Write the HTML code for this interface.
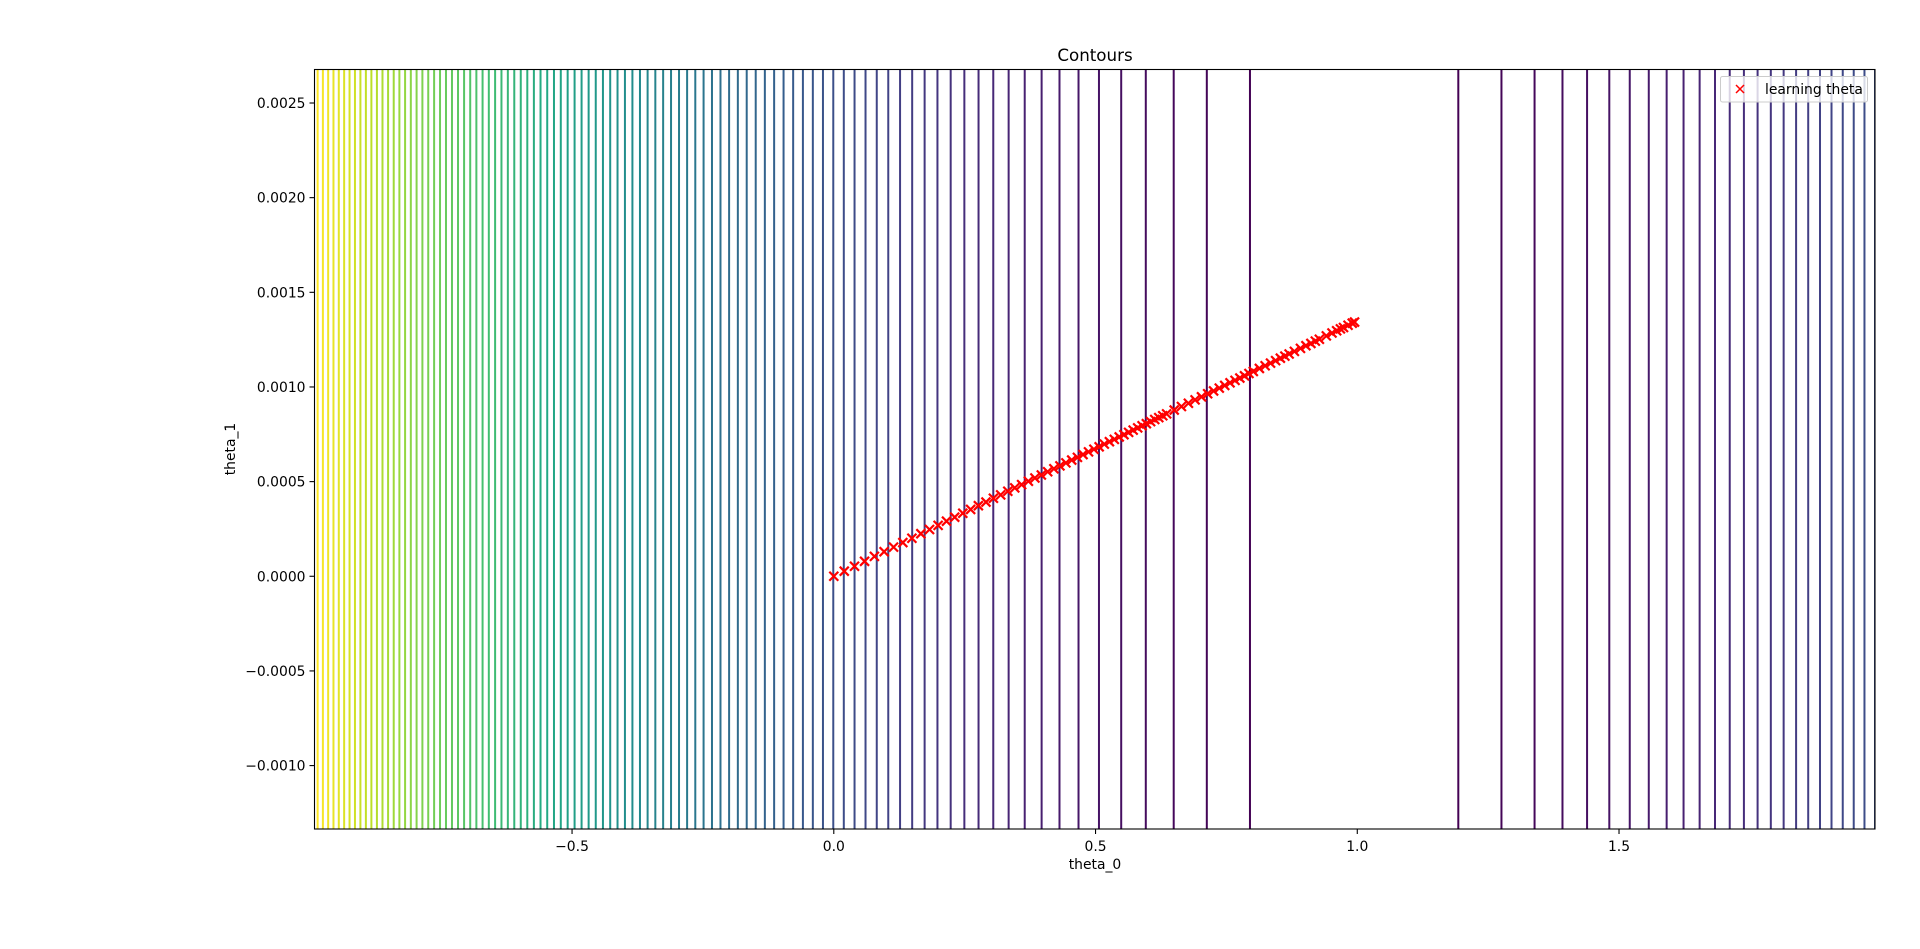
<!DOCTYPE html>
<html><head><meta charset="utf-8"><style>
body{margin:0;background:#fff}
svg text{font-family:"DejaVu Sans","Liberation Sans",sans-serif;fill:#000}
</style></head><body>
<svg id="chart" width="1920" height="944" viewBox="0 0 1920 944" xmlns="http://www.w3.org/2000/svg">
<defs><clipPath id="clip"><rect x="314.5" y="69.5" width="1560.5" height="759.5"/></clipPath></defs>
<g id="contours" clip-path="url(#clip)"></g>
<g id="path" clip-path="url(#clip)"></g>
<rect x="314.5" y="69.5" width="1560.5" height="759.5" fill="none" stroke="#000" stroke-width="1.1"/>
<g id="xticks"></g>
<g id="yticks"></g>
<text x="1095" y="61" font-size="16.7" text-anchor="middle">Contours</text>
<text x="1095" y="869" font-size="13.9" text-anchor="middle">theta_0</text>
<text transform="translate(235,449) rotate(-90)" font-size="13.9" text-anchor="middle">theta_1</text>
<g>
<rect x="1720.5" y="76.5" width="147" height="25.5" rx="2" fill="#fff" fill-opacity="0.8" stroke="#ccc" stroke-width="1"/>
<path d="M1736,85 l8,8 M1744,85 l-8,8" stroke="#f00" stroke-width="1.5"/>
<text x="1765" y="94" font-size="13.9">learning theta</text>
</g>
</svg>
<script>
const theta0 = [0,.02,.0396,.0588,.0776,.0961,.1142,.1319,.1492,.1663,.1829,.1993,.2153,.2310,.2464,.2614,.2762,.2907,.3049,.3188,.3324,.3457,.3588,.3717,.3842,.3965,.4086,.4204,.4320,.4434,.4545,.4654,.4761,.4866,.4969,.5069,.5168,.5265,.5359,.5452,.5543,.5632,.5719,.5805,.5889,.5971,.6052,.6131,.6208,.6284,.6358,.6503,.6641,.6774,.6902,.7024,.7142,.7255,.7364,.7468,.7569,.7665,.7757,.7846,.7931,.8014,.8130,.8240,.8343,.8440,.8531,.8617,.8698,.8799,.8915,.9019,.9114,.9199,.9276,.9409,.9517,.9606,.9678,.9737,.9824,.9904,.9948];
const theta1e3 = [0,.027,.053,.079,.105,.130,.154,.178,.201,.225,.247,.269,.291,.312,.333,.353,.373,.392,.412,.430,.449,.467,.484,.502,.519,.535,.552,.568,.583,.599,.614,.628,.643,.657,.671,.684,.698,.711,.723,.736,.748,.760,.772,.784,.795,.806,.817,.828,.838,.848,.858,.878,.897,.914,.932,.948,.964,.979,.994,1.008,1.022,1.035,1.047,1.059,1.071,1.082,1.098,1.112,1.126,1.139,1.152,1.163,1.174,1.188,1.204,1.218,1.230,1.242,1.252,1.270,1.285,1.297,1.307,1.314,1.326,1.337,1.343];
const xTickVals = [-0.5,0,0.5,1.0,1.5];
const xTickLabels = ["\u22120.5","0.0","0.5","1.0","1.5"];
const yTickVals = [-0.0010,-0.0005,0,0.0005,0.0010,0.0015,0.0020,0.0025];
const yTickLabels = ["\u22120.0010","\u22120.0005","0.0000","0.0005","0.0010","0.0015","0.0020","0.0025"];
const costCenter = 0.994;
const levelStep = 0.0396;
const levelCount = 99;

const NS="http://www.w3.org/2000/svg";
const X0=314.5, X1=1875, Y0=69.5, Y1=829;
const xmin=-0.992, xmax=1.989, ymin=-0.001335, ymax=0.002677;
const sx=v=>X0+(v-xmin)/(xmax-xmin)*(X1-X0);
const sy=v=>Y1-(v-ymin)/(ymax-ymin)*(Y1-Y0);
const vir=[[68,1,84],[72,36,117],[65,68,135],[53,95,141],[42,120,142],[33,145,140],[34,168,132],[68,191,112],[122,209,81],[189,223,38],[253,231,37]];
function viridis(t){t=Math.max(0,Math.min(1,t))*10;const i=Math.min(9,Math.floor(t)),f=t-i;const a=vir[i],b=vir[i+1];return `rgb(${a.map((c,j)=>Math.round(c+(b[j]-c)*f)).join(',')})`;}
function mk(tag,attrs,parent){const e=document.createElementNS(NS,tag);for(const k in attrs)e.setAttribute(k,attrs[k]);parent.appendChild(e);return e;}

const cg=document.getElementById('contours');
for(let k=1;k<=levelCount;k++){
  const d=Math.sqrt(k*levelStep);
  const col=viridis((k-1)/(levelCount-1));
  for(const xv of [costCenter-d,costCenter+d]){
    if(xv<xmin||xv>xmax)continue;
    const l=mk('line',{x1:sx(xv),x2:sx(xv),y1:Y0,y2:Y1,stroke:col,'stroke-width':2},cg);
    
    
  }
}
const pg=document.getElementById('path');
for(let i=0;i<theta0.length;i++){
  const x=sx(theta0[i]),y=sy(theta1e3[i]/1000),h=4.5;
  const p=mk('path',{d:`M${x-h},${y-h}L${x+h},${y+h}M${x+h},${y-h}L${x-h},${y+h}`,stroke:'#f00','stroke-width':2.2},pg);
  
  
}
const xg=document.getElementById('xticks');
xTickVals.forEach((v,i)=>{
  const x=sx(v);
  mk('line',{x1:x,x2:x,y1:Y1,y2:Y1+5,stroke:'#000','stroke-width':1.1},xg);
  const t=mk('text',{x:x,y:Y1+22,'font-size':13.9,'text-anchor':'middle'},xg);
  t.textContent=xTickLabels[i];
  
  
});
const yg=document.getElementById('yticks');
yTickVals.forEach((v,i)=>{
  const y=sy(v);
  mk('line',{x1:X0-5,x2:X0,y1:y,y2:y,stroke:'#000','stroke-width':1.1},yg);
  const t=mk('text',{x:X0-9,y:y+5,'font-size':13.9,'text-anchor':'end'},yg);
  t.textContent=yTickLabels[i];
  
  
});
</script>
</body></html>
